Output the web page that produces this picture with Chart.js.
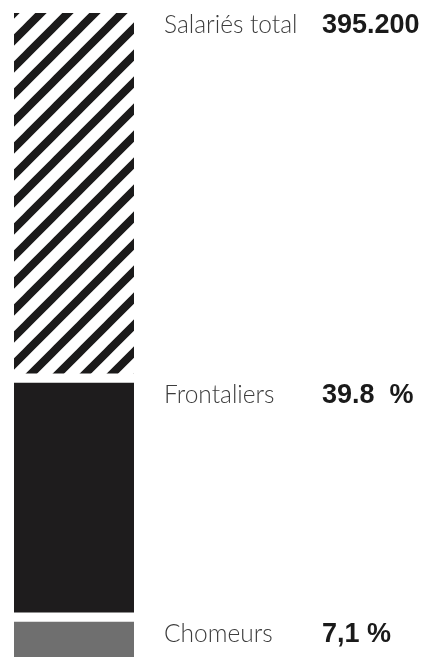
<!DOCTYPE html>
<html>
<head>
<meta charset="utf-8">
<script src="https://cdn.jsdelivr.net/npm/chart.js@4.4.0/dist/chart.umd.min.js"></script>
<style>
  html, body { margin: 0; padding: 0; background: #fff; }
  #wrap { width: 429px; height: 657px; }
</style>
</head>
<body>
<div id="wrap"><canvas id="stackChart"></canvas></div>
<script>
// segments from bottom to top
const categories = ['Chomeurs', 'Frontaliers', 'Salariés total'];
const valueLabels = ['7,1 %', '39.8  %', '395.200'];
const barShares = [6.2, 37.1, 56.7]; // share of bar height

// diagonal hatch for the top segment
function makeHatch() {
    var size = 27;
    var c = document.createElement('canvas');
    c.width = size;
    c.height = size;
    var g = c.getContext('2d');
    g.fillStyle = '#fff';
    g.fillRect(0, 0, size, size);
    g.strokeStyle = '#1b1a1a';
    g.lineWidth = 8;
    g.lineCap = 'square';
    [-size, 0, size].forEach(function (off) {
        g.beginPath();
        g.moveTo(off - 2, size + 2);
        g.lineTo(off + size + 2, -2);
        g.stroke();
    });
    return g.createPattern(c, 'repeat');
}

const fills = ['#6f6f6f', '#1e1c1d', makeHatch()];
const borders = [
    { top: 5, bottom: 0, left: 0, right: 0 },
    { top: 5, bottom: 5, left: 0, right: 0 },
    { top: 0, bottom: 5, left: 0, right: 0 }
];

const sideLabels = {
    id: 'sideLabels',
    afterDatasetsDraw: function (chart) {
        var ctx = chart.ctx;
        ctx.save();
        ctx.textBaseline = 'alphabetic';
        ctx.textAlign = 'left';
        chart.data.datasets.forEach(function (ds, i) {
            var bar = chart.getDatasetMeta(i).data[0];
            var yTop = bar.y + borders[i].top;
            var base = yTop + 20;
            ctx.fillStyle = '#3c3c3c';
            ctx.font = '300 24.5px Lato, "Liberation Sans", sans-serif';
            ctx.fillText(categories[i], 164, base);
            ctx.fillStyle = '#1a1a1a';
            ctx.font = 'bold 27px "Liberation Sans", Arial, sans-serif';
            ctx.fillText(valueLabels[i], 322, base);
        });
        ctx.restore();
    }
};

new Chart(document.getElementById('stackChart'), {
    type: 'bar',
    data: {
        labels: [''],
        datasets: categories.map(function (name, i) {
            return {
                label: name,
                data: [barShares[i]],
                backgroundColor: fills[i],
                borderColor: '#ffffff',
                borderWidth: borders[i],
                borderSkipped: false,
                barPercentage: 1,
                categoryPercentage: 1
            };
        })
    },
    options: {
        responsive: true,
        maintainAspectRatio: false,
        animation: false,
        layout: { padding: { top: 13, bottom: 0, left: 14, right: 295 } },
        plugins: { legend: { display: false }, tooltip: { enabled: false } },
        scales: {
            x: { stacked: true, display: false },
            y: { stacked: true, display: false, min: 0, max: 100 }
        }
    },
    plugins: [sideLabels]
});
</script>
</body>
</html>
